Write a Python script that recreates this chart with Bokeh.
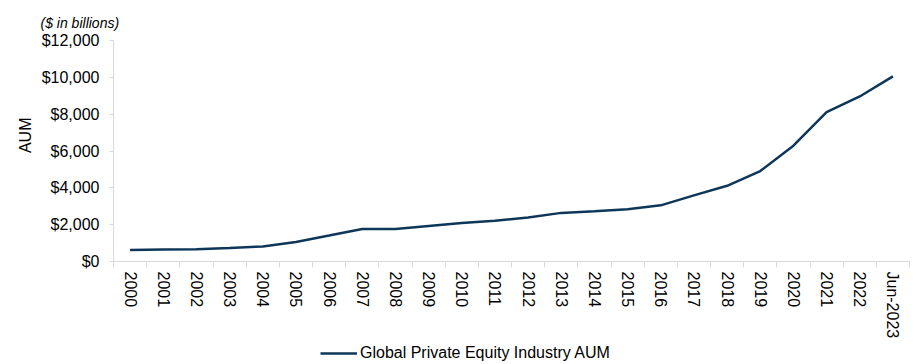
from bokeh.plotting import figure
from bokeh.layouts import column
from bokeh.models import (FixedTicker, NumeralTickFormatter, Legend, LegendItem,
                          Range1d, Title, ColumnDataSource)
from bokeh.embed import file_html
from bokeh.resources import INLINE

categories = ["2000", "2001", "2002", "2003", "2004", "2005", "2006", "2007",
              "2008", "2009", "2010", "2011", "2012", "2013", "2014", "2015",
              "2016", "2017", "2018", "2019", "2020", "2021", "2022", "Jun-2023"]
aum = [620, 650, 660, 730, 820, 1060, 1410, 1770, 1770, 1930, 2090, 2210,
       2390, 2640, 2730, 2840, 3050, 3590, 4110, 4910, 6290, 8110, 8960, 10050]
y_ticks = [0, 2000, 4000, 6000, 8000, 10000, 12000]
series_name = "Global Private Equity Industry AUM"

FONT = "Liberation Sans"
AXIS_GRAY = "#d9d9d9"
LINE_COLOR = "#0e3659"

n = len(categories)
xs = [i + 0.5 for i in range(n)]
src = ColumnDataSource(dict(x=xs, y=aum))

p = figure(width=918, height=341, output_backend="svg", toolbar_location=None,
           x_range=Range1d(0, n), y_range=Range1d(0, 12000),
           min_border_left=113, min_border_right=9, min_border_top=40,
           min_border_bottom=77)
p.outline_line_color = None
p.xgrid.grid_line_color = None
p.ygrid.grid_line_color = None

r = p.line("x", "y", source=src, line_color=LINE_COLOR, line_width=2.5)

# x axis: labels at category centres, ticks at category boundaries
xt = FixedTicker(ticks=xs, minor_ticks=list(range(n + 1)))
p.xaxis.ticker = xt
p.xaxis.major_label_overrides = {x: c for x, c in zip(xs, categories)}
p.xaxis.major_label_orientation = "vertical"
p.xaxis.major_tick_line_color = None
p.xaxis.minor_tick_line_color = AXIS_GRAY
p.xaxis.minor_tick_in = 0
p.xaxis.minor_tick_out = 6
p.xaxis.axis_line_color = AXIS_GRAY
p.xaxis.major_label_text_font = FONT
p.xaxis.major_label_text_font_size = "16px"
p.xaxis.major_label_text_color = "#000000"
p.xaxis.major_label_standoff = 4

p.yaxis.ticker = FixedTicker(ticks=y_ticks, minor_ticks=[])
p.yaxis.formatter = NumeralTickFormatter(format="$0,0")
p.yaxis.axis_line_color = AXIS_GRAY
p.yaxis.major_tick_line_color = AXIS_GRAY
p.yaxis.major_tick_in = 0
p.yaxis.major_tick_out = 4
p.yaxis.minor_tick_line_color = None
p.yaxis.major_label_text_font = FONT
p.yaxis.major_label_text_font_size = "16px"
p.yaxis.major_label_text_color = "#000000"
p.yaxis.major_label_standoff = 10

p.title.text = "($ in billions)"
p.title.text_font = FONT
p.title.text_font_size = "14px"
p.title.text_font_style = "italic"
p.title.text_color = "#000000"
p.title.align = "left"
p.title.offset = -73
p.title.standoff = 20

ylab = Title(text="AUM", text_font=FONT, text_font_size="16px",
             text_font_style="normal", text_color="#000000", align="right",
             offset=77)
p.add_layout(ylab, "left")

# legend row below the chart
lg = figure(width=918, height=23, output_backend="svg", toolbar_location=None,
            x_range=Range1d(0, n), y_range=Range1d(-2, -1),
            min_border=0, min_border_left=0, min_border_right=0,
            min_border_top=0, min_border_bottom=0)
lg.axis.visible = False
lg.grid.visible = False
lg.outline_line_color = None
lr = lg.line("x", "y", source=src, line_color=LINE_COLOR, line_width=2.5)
legend = Legend(items=[LegendItem(label=series_name, renderers=[lr])],
                location=(207, 2), orientation="horizontal",
                label_text_font=FONT, label_text_font_size="16px",
                label_text_color="#000000", glyph_width=37, label_standoff=3,
                padding=0, margin=0, border_line_color=None,
                background_fill_alpha=0, label_height=18, glyph_height=18)
lg.add_layout(legend, "center")

layout = column(p, lg, spacing=0)
open("out.html", "w").write(file_html(layout, INLINE))
